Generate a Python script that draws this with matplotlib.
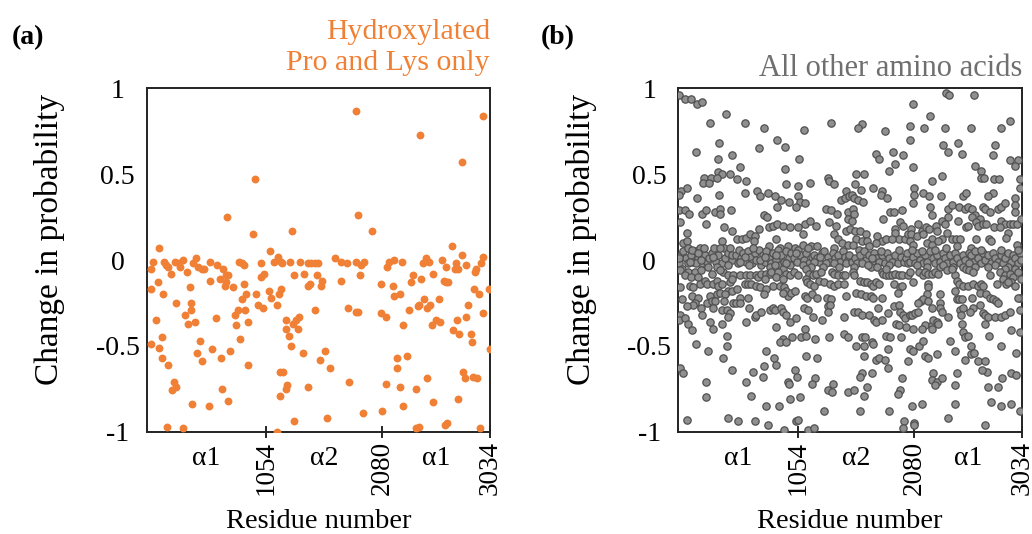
import numpy as np
import matplotlib
matplotlib.use("Agg")
import matplotlib.pyplot as plt

plt.rcParams["font.family"] = ["Liberation Serif", "DejaVu Serif"]

ORANGE = "#ef8035"
GREY_FACE = "#8f8f8f"
GREY_EDGE = "#505050"
GREY_TEXT = "#6f6f6f"

chain_ends = [1054, 2080, 3034]
chain_names = ["α1", "α2", "α1"]
y_ticks = [-1, -0.5, 0, 0.5, 1]
y_labels = ["-1", "-0.5", "0", "0.5", "1"]

# (residue, change in probability) -- hydroxylated Pro/Lys
hyp_first = [
    (955, 0.47), (710, 0.25), (940, 0.15), (109, 0.07), (56, -0.01), (38, -0.05),
    (156, -0.01), (168, -0.03), (192, -0.04), (218, -0.08), (248, -0.01), (286, -0.02),
    (298, -0.04), (321, 0.0), (360, -0.07), (410, -0.02), (439, 0.01), (454, -0.04),
    (489, -0.05), (507, -0.05), (560, -0.01), (625, -0.03), (675, -0.05), (704, -0.09),
    (719, -0.09), (698, -0.13), (690, -0.15), (645, -0.11), (563, -0.12), (763, -0.16),
    (816, -0.01), (840, -0.02), (860, -0.03), (863, -0.14), (875, -0.2), (846, -0.23),
    (807, -0.29), (869, -0.29), (784, -0.32), (793, -0.38), (893, -0.36), (828, -0.46),
    (896, -0.61), (740, -0.53), (654, -0.57), (575, -0.52), (469, -0.47), (448, -0.54),
    (486, -0.59), (616, -0.34), (430, -0.36), (368, -0.37), (342, -0.32), (392, -0.29),
    (389, -0.25), (380, -0.16), (256, -0.25), (144, -0.2), (103, -0.13), (35, -0.17),
    (85, -0.35), (136, -0.45), (41, -0.49), (109, -0.51), (139, -0.57), (192, -0.61),
    (239, -0.71), (256, -0.74), (221, -0.76), (401, -0.84), (548, -0.85), (663, -0.75),
    (722, -0.82), (180, -0.97), (324, -0.98),
]
hyp_second = [
    (967, -0.2), (987, -0.26), (1029, -0.28), (1014, -0.1), (1034, -0.08), (1011, -0.02),
    (1087, 0.05), (1126, -0.01), (1158, 0.02), (1191, -0.01), (1199, -0.02), (1270, -0.01),
    (1353, -0.01), (1288, 0.17), (1303, -0.09), (1388, -0.08), (1426, -0.02), (1456, -0.02),
    (1485, -0.02), (1515, -0.02), (1429, -0.15), (1441, -0.14), (1503, -0.09), (1550, -0.12),
    (1538, -0.15), (1662, 0.01), (1718, -0.01), (1771, -0.02), (1854, -0.01), (1898, -0.03),
    (1924, -0.01), (1883, -0.09), (1715, -0.12), (1848, 0.87), (1871, 0.26), (1082, -0.18),
    (1102, -0.22), (1185, -0.17), (1170, -0.2), (1155, -0.26), (1235, -0.35), (1294, -0.37),
    (1323, -0.35), (1344, -0.33), (1235, -0.4), (1253, -0.44), (1335, -0.4), (1279, -0.5),
    (1382, -0.54), (1485, -0.29), (1777, -0.28), (1848, -0.3), (1869, -0.3), (1574, -0.53),
    (1530, -0.58), (1621, -0.63), (1176, -0.65), (1205, -0.65), (1241, -0.73), (1235, -0.75),
    (1182, -0.79), (1421, -0.74), (1786, -0.71), (1913, -0.89), (1597, -0.92), (1303, -0.94),
    (1152, -1.0),
]
hyp_third = [
    (1995, 0.17), (2413, 0.73), (2970, 0.84), (2785, 0.57), (2075, -0.14), (2181, -0.15),
    (2187, -0.21), (2240, -0.2), (2125, -0.04), (2139, -0.01), (2189, 0.0), (2260, -0.01),
    (2075, -0.31), (2119, -0.33), (2269, -0.38), (2355, -0.09), (2334, -0.13), (2422, -0.11),
    (2443, -0.02), (2472, 0.01), (2493, -0.01), (2531, -0.08), (2319, -0.29), (2399, -0.27),
    (2408, -0.26), (2455, -0.23), (2475, -0.28), (2508, -0.26), (2584, -0.23), (2520, -0.38),
    (2561, -0.35), (2593, -0.36), (2608, 0.0), (2649, -0.04), (2626, -0.12), (2649, -0.13),
    (2667, -0.13), (2699, 0.08), (2732, -0.02), (2729, -0.05), (2755, -0.05), (2788, 0.03),
    (2820, -0.03), (2900, -0.07), (2906, -0.05), (2953, -0.02), (2976, 0.02), (2897, -0.17),
    (2935, -0.2), (3021, -0.17), (2844, -0.26), (2823, -0.33), (2744, -0.35), (2973, -0.31),
    (2705, -0.41), (2764, -0.43), (2864, -0.43), (2873, -0.48), (3032, -0.52), (2216, -0.57),
    (2301, -0.56), (2216, -0.63), (2116, -0.72), (2242, -0.74), (2378, -0.75), (2481, -0.69),
    (2797, -0.65), (2811, -0.69), (2885, -0.68), (2920, -0.69), (2269, -0.85), (2528, -0.83),
    (2749, -0.81), (2080, -0.88), (2384, -0.98), (2408, -0.97), (2640, -0.96), (2655, -0.95),
    (2944, -0.98),
]

# (residue, change in probability) -- all other amino acids
other_0 = [
    (6, 0.96), (59, 0.94), (109, 0.94), (162, 0.91), (212, 0.92), (418, 0.85), (283, 0.8),
    (359, 0.68), (153, 0.63), (347, 0.59), (471, 0.61), (230, 0.48), (289, 0.48), (353, 0.51),
    (388, 0.5), (341, 0.48), (456, 0.5), (221, 0.45), (271, 0.45), (24, 0.4), (74, 0.42),
    (6, 0.38), (165, 0.36), (356, 0.38), (6, 0.29), (59, 0.29), (94, 0.27), (206, 0.27),
    (244, 0.29), (324, 0.28), (365, 0.3), (365, 0.27), (465, 0.29), (12, 0.22), (241, 0.21),
    (403, 0.19), (471, 0.17), (74, 0.16), (45, 0.1), (80, 0.11), (383, 0.11), (406, 0.07),
    (24, 0.03), (45, 0.05), (65, 0.01), (89, 0.07), (112, 0.03), (133, -0.01), (153, 0.05),
    (177, 0.01), (192, 0.07), (212, -0.02), (236, 0.03), (253, -0.01), (274, 0.01), (294, 0.04),
    (315, 0.07), (330, -0.01), (353, 0.03), (371, 0.07), (388, -0.02), (412, 0.01), (436, 0.04),
    (456, 0.07), (477, 0.0), (6, -0.02), (30, -0.05), (89, -0.02), (118, 0.06), (153, -0.02),
    (171, 0.04), (230, 0.07), (259, -0.04), (339, -0.04), (441, -0.03), (471, 0.03), (103, -0.01),
    (200, 0.0), (309, 0.02), (6, 0.01), (15, -0.06), (89, -0.07), (147, -0.07), (200, -0.06),
    (59, -0.09), (112, -0.1), (177, -0.1), (397, -0.07), (441, -0.09), (486, -0.09), (368, -0.06),
    (294, -0.08), (456, -0.13), (477, -0.11), (15, -0.16), (103, -0.15), (133, -0.16),
    (192, -0.14), (236, -0.12), (250, -0.14), (309, -0.14), (339, -0.12), (347, -0.15),
    (383, -0.14), (436, -0.18), (477, -0.18), (118, -0.21), (177, -0.22), (280, -0.21),
    (339, -0.2), (368, -0.19), (412, -0.2), (147, -0.25), (30, -0.23), (133, -0.26), (74, -0.27),
    (250, -0.25), (294, -0.24), (324, -0.24), (406, -0.24), (486, -0.25), (200, -0.28),
    (309, -0.28), (383, -0.29), (427, -0.29), (456, -0.31), (436, -0.33), (206, -0.32),
    (15, -0.32), (6, -0.35), (59, -0.34), (83, -0.37), (280, -0.36), (309, -0.4), (383, -0.37),
    (124, -0.41), (427, -0.44), (427, -0.5), (153, -0.49), (265, -0.53), (397, -0.57),
    (12, -0.63), (45, -0.66), (471, -0.64), (244, -0.71), (244, -0.8), (74, -0.93), (436, -0.92),
]
other_500 = [
    (585, 0.8), (753, 0.77), (871, 0.7), (938, 0.66), (712, 0.65), (547, 0.54), (518, 0.47),
    (600, 0.46), (944, 0.53), (953, 0.44), (585, 0.39), (694, 0.4), (718, 0.37), (788, 0.39),
    (850, 0.37), (909, 0.35), (973, 0.34), (874, 0.31), (753, 0.26), (785, 0.25), (712, 0.18),
    (800, 0.19), (835, 0.2), (874, 0.21), (924, 0.2), (988, 0.19), (521, 0.12), (562, 0.12),
    (600, 0.13), (635, 0.15), (674, 0.14), (668, 0.11), (865, 0.12), (797, 0.08), (894, 0.07),
    (968, 0.08), (512, 0.03), (535, 0.06), (556, 0.01), (571, 0.04), (594, -0.01), (615, 0.05),
    (635, 0.02), (653, -0.02), (674, 0.04), (688, 0.0), (712, 0.06), (732, -0.03), (747, 0.03),
    (765, -0.01), (777, 0.05), (800, 0.01), (821, -0.02), (835, 0.04), (859, 0.0), (879, 0.06),
    (894, -0.03), (909, 0.03), (929, -0.01), (953, 0.05), (976, 0.01), (994, 0.04), (527, -0.02),
    (585, 0.02), (659, 0.07), (724, 0.0), (806, -0.04), (850, -0.03), (924, -0.05), (982, -0.03),
    (624, -0.03), (541, -0.01), (762, 0.02), (865, 0.03), (953, -0.02), (541, -0.09),
    (594, -0.09), (635, -0.09), (682, -0.09), (703, -0.1), (732, -0.08), (777, -0.08),
    (806, -0.08), (821, -0.07), (879, -0.07), (947, -0.08), (982, -0.09), (762, -0.11),
    (865, -0.1), (924, -0.11), (518, -0.17), (585, -0.14), (615, -0.14), (644, -0.14),
    (688, -0.15), (718, -0.16), (771, -0.17), (753, -0.2), (835, -0.15), (900, -0.15),
    (929, -0.16), (953, -0.18), (968, -0.21), (924, -0.19), (991, -0.19), (512, -0.25),
    (547, -0.22), (615, -0.22), (541, -0.25), (624, -0.28), (674, -0.33), (688, -0.32),
    (600, -0.36), (732, -0.3), (812, -0.29), (835, -0.28), (856, -0.29), (909, -0.28),
    (924, -0.3), (947, -0.32), (982, -0.36), (865, -0.39), (1006, -0.45), (924, -0.46),
    (894, -0.48), (947, -0.48), (771, -0.53), (841, -0.57), (859, -0.61), (753, -0.62),
    (659, -0.65), (747, -0.68), (600, -0.71), (968, -0.71), (976, -0.72), (644, -0.79),
    (982, -0.81), (777, -0.85), (888, -0.85), (527, -0.94), (674, -0.94), (791, -0.96),
    (929, -0.99),
]
other_1000 = [
    (1347, 0.8), (1112, 0.76), (1068, 0.59), (1317, 0.48), (1332, 0.46), (1165, 0.45),
    (1370, 0.44), (1059, 0.43), (1053, 0.37), (1076, 0.34), (1117, 0.33), (1035, 0.31),
    (1479, 0.4), (1435, 0.35), (1473, 0.36), (1509, 0.37), (1303, 0.3), (1347, 0.29),
    (1400, 0.27), (1500, 0.28), (1494, 0.24), (1053, 0.19), (1117, 0.21), (1165, 0.23),
    (1214, 0.2), (1097, 0.15), (1332, 0.22), (1391, 0.2), (1479, 0.17), (1517, 0.18),
    (1376, 0.15), (1406, 0.12), (1029, 0.07), (1059, 0.06), (1097, 0.09), (1170, 0.08),
    (1223, 0.08), (1441, 0.1), (1370, 0.07), (1494, 0.09), (1023, 0.01), (1047, -0.01),
    (1076, 0.03), (1106, 0.0), (1126, 0.04), (1156, -0.02), (1176, 0.02), (1200, 0.03),
    (1223, 0.01), (1244, -0.01), (1264, 0.04), (1288, 0.05), (1317, 0.02), (1341, -0.01),
    (1362, 0.04), (1382, 0.01), (1406, 0.03), (1429, -0.01), (1450, 0.05), (1470, 0.02),
    (1500, 0.0), (1038, 0.04), (1097, -0.03), (1141, 0.07), (1194, -0.01), (1253, 0.02),
    (1303, -0.02), (1376, -0.02), (1479, -0.02), (1170, -0.04), (1273, -0.04), (1420, -0.04),
    (1509, 0.03), (1023, -0.07), (1053, -0.09), (1126, -0.05), (1156, -0.08), (1185, -0.09),
    (1214, -0.08), (1259, -0.07), (1353, -0.07), (1376, -0.08), (1406, -0.09), (1450, -0.09),
    (1470, -0.09), (1126, -0.11), (1244, -0.12), (1135, -0.13), (1165, -0.14), (1200, -0.15),
    (1288, -0.13), (1341, -0.14), (1370, -0.15), (1406, -0.14), (1459, -0.14), (1029, -0.18),
    (1117, -0.21), (1135, -0.22), (1176, -0.2), (1223, -0.22), (1312, -0.22), (1347, -0.23),
    (1479, -0.21), (1112, -0.28), (1141, -0.29), (1317, -0.27), (1341, -0.26), (1323, -0.3),
    (1185, -0.33), (1264, -0.35), (1038, -0.34), (1082, -0.45), (1117, -0.4), (1126, -0.44),
    (1206, -0.46), (1332, -0.45), (1464, -0.33), (1464, -0.43), (1500, -0.45), (1126, -0.56),
    (1223, -0.57), (1029, -0.64), (1047, -0.68), (1206, -0.69), (1179, -0.72), (1076, -0.8),
    (1317, -0.76), (1353, -0.77), (1362, -0.72), (1500, -0.77), (1282, -0.88), (1038, -0.94),
    (1053, -0.93), (1141, -0.99), (1194, -0.98),
]
other_1500 = [
    (1623, 0.79), (1588, 0.77), (1823, 0.75), (1747, 0.62), (1776, 0.59), (1894, 0.63),
    (1982, 0.61), (1917, 0.56), (1864, 0.52), (1570, 0.5), (1638, 0.5), (1564, 0.44),
    (1617, 0.41), (1717, 0.42), (1800, 0.4), (1785, 0.38), (1844, 0.36), (1535, 0.38),
    (1550, 0.36), (1588, 0.35), (1629, 0.34), (1541, 0.3), (1550, 0.27), (1535, 0.23),
    (1873, 0.28), (1902, 0.28), (1976, 0.29), (1808, 0.24), (1961, 0.22), (1982, 0.2),
    (1917, 0.18), (1917, 0.16), (1947, 0.12), (1999, 0.12), (2029, 0.15), (1558, 0.17),
    (1608, 0.17), (1653, 0.15), (1570, 0.12), (1623, 0.11), (1667, 0.11), (1755, 0.14),
    (1800, 0.11), (1829, 0.12), (1747, 0.1), (1888, 0.12), (1682, 0.08), (1594, 0.06),
    (1541, 0.09), (1535, -0.01), (1559, 0.01), (1579, -0.02), (1608, 0.03), (1638, 0.05),
    (1658, 0.0), (1682, 0.03), (1706, -0.02), (1726, 0.04), (1747, 0.01), (1770, -0.01),
    (1800, 0.03), (1823, -0.02), (1844, 0.04), (1864, 0.01), (1888, -0.01), (1917, 0.03),
    (1941, -0.02), (1970, 0.02), (1991, -0.01), (2011, 0.01), (2029, -0.02), (1550, -0.04),
    (1623, -0.02), (1697, -0.04), (1711, 0.01), (1785, 0.05), (1858, -0.03), (1947, 0.06),
    (2020, 0.04), (1676, -0.03), (1755, -0.04), (1541, -0.07), (1550, -0.09), (1600, -0.12),
    (1638, -0.13), (1667, -0.13), (1697, -0.14), (1717, -0.15), (1741, -0.13), (1770, -0.14),
    (1794, -0.07), (1805, -0.08), (1829, -0.09), (1858, -0.09), (1888, -0.09), (1917, -0.08),
    (1947, -0.09), (1976, -0.09), (1829, -0.05), (1903, -0.14), (1953, -0.16), (1976, -0.15),
    (1941, -0.19), (1570, -0.19), (1617, -0.2), (1653, -0.21), (1697, -0.21), (1717, -0.22),
    (1800, -0.22), (2029, -0.09), (1550, -0.3), (1588, -0.3), (1623, -0.32), (1682, -0.32),
    (1726, -0.35), (1741, -0.36), (1794, -0.35), (1764, -0.28), (1853, -0.31), (1903, -0.27),
    (1947, -0.26), (1961, -0.3), (1982, -0.32), (2005, -0.34), (2011, -0.39), (1926, -0.37),
    (1947, -0.38), (1570, -0.5), (1623, -0.45), (1647, -0.45), (1638, -0.5), (1706, -0.48),
    (1717, -0.49), (1829, -0.44), (1873, -0.45), (1970, -0.45), (1853, -0.52), (1638, -0.56),
    (1741, -0.58), (1776, -0.57), (1823, -0.58), (1853, -0.63), (1623, -0.66), (1608, -0.68),
    (1706, -0.66), (1550, -0.76), (1638, -0.79), (1667, -0.74), (1976, -0.69), (1961, -0.76),
    (1941, -0.78), (1600, -0.88), (1858, -0.88), (1991, -0.94), (1982, -0.98), (2029, -0.59),
]
other_2000 = [
    (2364, 0.97), (2393, 0.96), (2076, 0.91), (2223, 0.84), (2046, 0.78), (2170, 0.77),
    (2355, 0.77), (2041, 0.7), (2335, 0.67), (2473, 0.68), (2382, 0.63), (2505, 0.62),
    (2076, 0.54), (2240, 0.46), (2326, 0.49), (2082, 0.42), (2082, 0.38), (2158, 0.39),
    (2217, 0.37), (2320, 0.37), (2517, 0.37), (2540, 0.39), (2076, 0.33), (2223, 0.31),
    (2385, 0.3), (2414, 0.32), (2479, 0.31), (2532, 0.3), (2237, 0.26), (2326, 0.23),
    (2385, 0.25), (2467, 0.23), (2052, 0.18), (2120, 0.21), (2149, 0.17), (2188, 0.19),
    (2217, 0.18), (2276, 0.2), (2355, 0.21), (2540, 0.19), (2370, 0.16), (2052, 0.15),
    (2105, 0.14), (2164, 0.15), (2237, 0.12), (2282, 0.17), (2326, 0.12), (2414, 0.12),
    (2452, 0.12), (2487, 0.12), (2046, 0.11), (2076, 0.09), (2193, 0.1), (2237, 0.09),
    (2296, 0.11), (2046, -0.01), (2070, 0.02), (2091, -0.02), (2111, 0.04), (2135, 0.0),
    (2158, -0.02), (2179, 0.03), (2199, -0.01), (2223, 0.05), (2246, 0.01), (2267, -0.02),
    (2287, 0.03), (2311, -0.01), (2335, 0.04), (2355, 0.01), (2376, -0.02), (2399, 0.03),
    (2423, -0.01), (2443, 0.04), (2464, 0.01), (2487, -0.02), (2511, 0.03), (2532, 0.0),
    (2061, 0.06), (2149, 0.05), (2267, 0.06), (2364, 0.07), (2458, 0.08), (2193, -0.04),
    (2311, -0.04), (2429, -0.04), (2517, -0.04), (2105, -0.03), (2340, -0.03), (2046, -0.07),
    (2070, -0.13), (2129, -0.07), (2158, -0.09), (2179, -0.07), (2208, -0.08), (2237, -0.08),
    (2267, -0.07), (2296, -0.08), (2370, -0.06), (2443, -0.09), (2458, -0.12), (2482, -0.14),
    (2517, -0.15), (2414, -0.05), (2540, -0.05), (2208, -0.14), (2208, -0.16), (2193, -0.2),
    (2311, -0.2), (2443, -0.18), (2458, -0.23), (2482, -0.23), (2502, -0.23), (2140, -0.24),
    (2158, -0.23), (2208, -0.24), (2120, -0.25), (2237, -0.28), (2311, -0.25), (2311, -0.28),
    (2326, -0.3), (2487, -0.29), (2511, -0.28), (2041, -0.32), (2061, -0.32), (2091, -0.31),
    (2120, -0.3), (2179, -0.38), (2237, -0.38), (2252, -0.35), (2282, -0.36), (2296, -0.37),
    (2385, -0.33), (2493, -0.32), (2502, -0.37), (2517, -0.42), (2532, -0.45), (2070, -0.4),
    (2149, -0.4), (2237, -0.4), (2046, -0.52), (2076, -0.53), (2129, -0.5), (2164, -0.47),
    (2179, -0.56), (2208, -0.57), (2282, -0.55), (2399, -0.47), (2443, -0.53), (2532, -0.58),
    (2464, -0.66), (2252, -0.66), (2237, -0.7), (2282, -0.71), (2267, -0.73), (2326, -0.69),
    (2443, -0.73), (2061, -0.85), (2149, -0.84), (2443, -0.84), (2385, -0.92), (2082, -0.95),
    (2082, -0.96),
]
other_2500 = [
    (2611, 0.96), (2926, 0.81), (2847, 0.77), (2588, 0.77), (2799, 0.67), (2779, 0.61),
    (2926, 0.58), (3000, 0.58), (2976, 0.55), (2623, 0.55), (2670, 0.52), (2670, 0.48),
    (2700, 0.48), (2788, 0.47), (2832, 0.47), (3014, 0.47), (3014, 0.42), (2779, 0.39),
    (2735, 0.37), (2970, 0.36), (2976, 0.32), (2558, 0.31), (2594, 0.3), (2691, 0.31),
    (2705, 0.3), (2750, 0.28), (2823, 0.3), (2852, 0.31), (2882, 0.33), (2970, 0.28),
    (2617, 0.26), (2661, 0.24), (2594, 0.25), (2632, 0.22), (2558, 0.2), (2647, 0.2),
    (2691, 0.21), (2720, 0.21), (2788, 0.19), (2852, 0.23), (2882, 0.21), (2926, 0.21),
    (2955, 0.21), (2993, 0.21), (3029, 0.24), (2838, 0.19), (2911, 0.16), (2897, 0.13),
    (2632, 0.12), (2741, 0.12), (2764, 0.11), (2993, 0.09), (2588, 0.07), (2564, 0.04),
    (2582, 0.03), (2603, -0.01), (2623, 0.05), (2647, 0.01), (2670, -0.02), (2691, 0.04),
    (2711, 0.0), (2735, 0.03), (2758, -0.02), (2779, 0.04), (2799, 0.01), (2823, -0.01),
    (2847, 0.03), (2867, -0.02), (2888, 0.01), (2911, 0.04), (2935, -0.01), (2955, 0.03),
    (2976, 0.01), (2999, -0.02), (3014, 0.04), (3029, 0.0), (2564, -0.02), (2676, 0.06),
    (2794, -0.03), (2911, -0.04), (2999, 0.06), (2735, -0.04), (2852, 0.06), (2970, -0.05),
    (2617, -0.04), (2882, -0.05), (2564, -0.06), (2603, -0.07), (2750, -0.09), (2838, -0.07),
    (2882, -0.09), (2926, -0.08), (2955, -0.1), (2999, -0.07), (3023, -0.11), (2867, -0.11),
    (2941, -0.13), (2970, -0.15), (3014, -0.22), (2558, -0.15), (2603, -0.14), (2647, -0.15),
    (2676, -0.14), (2691, -0.15), (2661, -0.19), (2594, -0.22), (2720, -0.2), (2750, -0.22),
    (2779, -0.23), (2808, -0.24), (2823, -0.25), (2817, -0.14), (2897, -0.14), (2911, -0.13),
    (2999, -0.22), (3014, -0.29), (2603, -0.28), (2573, -0.3), (2661, -0.26), (2691, -0.31),
    (2705, -0.32), (2735, -0.33), (2794, -0.33), (2852, -0.33), (2882, -0.32), (2926, -0.3),
    (2705, -0.37), (2741, -0.44), (2558, -0.44), (2588, -0.5), (2582, -0.55), (2611, -0.54),
    (2647, -0.59), (2705, -0.59), (2729, -0.65), (2682, -0.64), (2847, -0.5), (2941, -0.41),
    (3014, -0.42), (2985, -0.54), (2941, -0.66), (2985, -0.67), (2858, -0.69), (2823, -0.74),
    (2735, -0.74), (2764, -0.83), (2852, -0.85), (2941, -0.84), (3014, -0.88), (2711, -0.96),
]


def split(*groups):
    pts = [p for g in groups for p in g]
    res = np.array([p[0] for p in pts], dtype=float)
    chg = np.array([p[1] for p in pts], dtype=float)
    return res, chg


def style_axes(ax):
    ax.set_xlim(0, chain_ends[-1])
    ax.set_ylim(-1, 1)
    for sp in ax.spines.values():
        sp.set_linewidth(1.4)
        sp.set_color("#222222")

    ax.set_xticks(chain_ends)
    ax.set_xticklabels([str(v) for v in chain_ends], rotation=90, fontsize=19.5)
    starts = [0] + chain_ends[:-1]
    mids = [(a + b) / 2 for a, b in zip(starts, chain_ends)]
    ax.set_xticks(mids, minor=True)
    ax.set_xticklabels(chain_names, minor=True, fontsize=20)
    ax.tick_params(axis="x", which="major", direction="inout", length=9, width=1.2, pad=2)
    ax.tick_params(axis="x", which="minor", length=0, pad=10)

    ax.set_yticks(y_ticks)
    ax.set_yticklabels(y_labels, fontsize=20)
    ax.tick_params(axis="y", length=0, pad=21)
    for lab in ax.get_yticklabels():
        lab.set_horizontalalignment("center")

    ax.set_xlabel("Residue number", fontsize=20.5, labelpad=10)
    ax.set_ylabel("Change in probability", fontsize=24)
    ax.yaxis.set_label_coords(-0.238, 0.56)


fig = plt.figure(figsize=(10.32, 5.34), dpi=100)
ax_a = fig.add_axes([0.1422, 0.1916, 0.3326, 0.643])
ax_b = fig.add_axes([0.6573, 0.1916, 0.333, 0.643])

x, y = split(hyp_first, hyp_second, hyp_third)
ax_a.scatter(x, y, s=32, color=ORANGE, linewidths=0, zorder=3)
style_axes(ax_a)
ax_a.set_title("Hydroxylated\nPro and Lys only", loc="right", color=ORANGE,
               fontsize=21.5, pad=13, linespacing=1.25)

x, y = split(other_0, other_500, other_1000, other_1500, other_2000, other_2500)
ax_b.scatter(x, y, s=28, facecolor=GREY_FACE, edgecolor=GREY_EDGE, linewidths=0.9, zorder=3)
style_axes(ax_b)
ax_b.set_title("All other amino acids", loc="right", color=GREY_TEXT, fontsize=22, pad=9)

fig.text(0.011, 0.93, "(a)", fontsize=20, fontweight="bold", va="center")
fig.text(0.524, 0.93, "(b)", fontsize=20, fontweight="bold", va="center")

fig.savefig("out.png", dpi=100)
